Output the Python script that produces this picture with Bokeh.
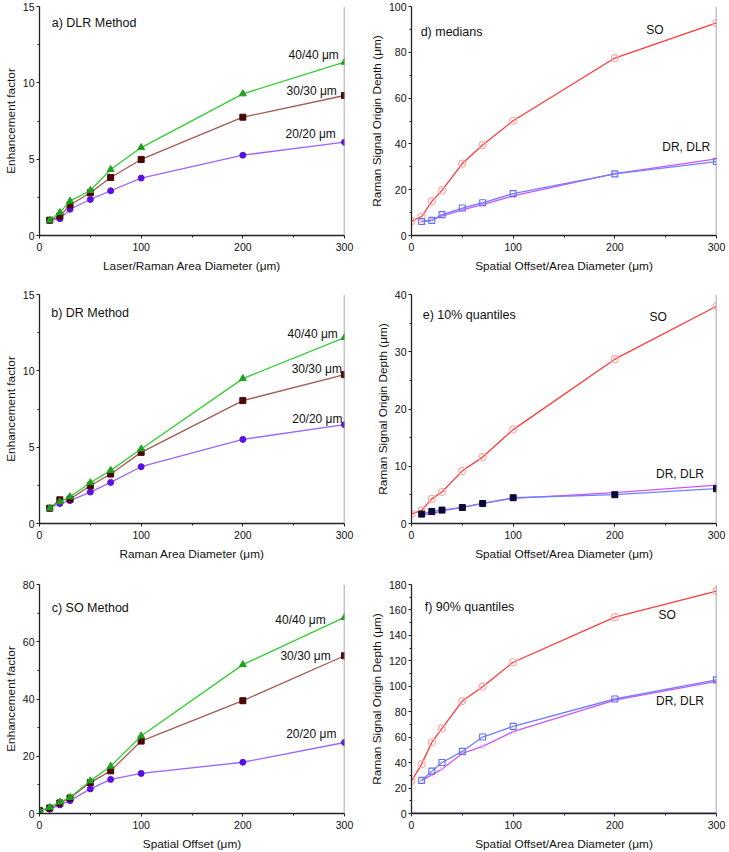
from bokeh.plotting import figure
from bokeh.models import FixedTicker, Label, Span, Range1d
from bokeh.layouts import column, row
from bokeh.embed import file_html
from bokeh.resources import INLINE

FONT = "Liberation Sans"

# ---------------- data ----------------
x_dia = [10, 20, 30, 50, 70, 100, 200, 300]
x_so = [0, 10, 20, 30, 50, 70, 100, 200, 300]

# a) DLR method enhancement factors
dlr_40 = [1.0, 1.5, 2.25, 2.95, 4.32, 5.76, 9.28, 11.35]
dlr_30 = [1.0, 1.27, 2.0, 2.8, 3.8, 4.98, 7.75, 9.17]
dlr_20 = [1.0, 1.1, 1.72, 2.36, 2.93, 3.76, 5.26, 6.11]

# b) DR method enhancement factors
dr_40 = [1.0, 1.42, 1.75, 2.67, 3.48, 4.88, 9.49, 12.18]
dr_30 = [1.0, 1.55, 1.6, 2.47, 3.24, 4.66, 8.05, 9.75]
dr_20 = [1.0, 1.31, 1.5, 2.06, 2.69, 3.72, 5.51, 6.47]

# c) SO method enhancement factors
so_40 = [1.0, 2.1, 4.0, 5.6, 11.4, 16.5, 27.1, 52.0, 68.5]
so_30 = [1.0, 1.9, 3.7, 5.4, 10.8, 14.9, 25.3, 39.4, 55.1]
so_20 = [1.0, 1.5, 3.0, 4.5, 8.6, 11.9, 14.0, 17.9, 24.8]

# d) medians of Raman signal origin depth
med_so = [6.3, 8.3, 14.9, 19.7, 31.4, 39.5, 50.1, 77.5, 92.8]
med_dr = [6.1, 6.6, 9.1, 12.0, 14.3, 18.3, 26.9, 32.3]
med_dlr = [6.1, 6.8, 8.5, 11.2, 13.5, 17.3, 27.0, 33.5]

# e) 10% quantiles
q10_so = [1.7, 2.3, 4.3, 5.5, 9.2, 11.6, 16.4, 28.7, 37.95]
q10_dr = [1.64, 2.1, 2.34, 2.8, 3.5, 4.5, 5.03, 6.08]
q10_dlr = [1.5, 1.7, 2.2, 2.8, 3.5, 4.4, 5.4, 6.7]

# f) 90% quantiles
q90_so = [25.7, 38.8, 55.9, 66.9, 88.4, 99.7, 118.9, 154.3, 174.8]
q90_dr = [26.0, 33.3, 40.1, 48.8, 60.1, 68.5, 90.0, 105.0]
q90_dlr = [26.0, 30.4, 34.9, 47.2, 52.7, 64.3, 89.2, 103.9]
q90_base_x = [0, 300]
q90_base_y = [0, 0]

x_ticks = [0, 100, 200, 300]
x_minor = [50, 150, 250]

GREEN_L, GREEN_M = "#33cc33", "#1f9f1f"
BROWN_L, BROWN_M = "#a35a55", "#4a0505"
PURP_L, PURP_M = "#9a66ff", "#5a10e0"
RED_L, RED_M = "#ff3a3a", "#ffaaaa"
BLUE_L, BLUE_M = "#7080ff", "#6070ee"
MAG_L, MAG_M = "#cc55ff", "#ee99ff"

TICK_FS = "10.5px"
AXIS_FS = "11.8px"
TITLE_FS = "12.5px"
ANN_FS = "12px"


def make_fig(ymax, yticks, yminor, xlabel, ylabel, bl, br, bt, bb, fw, fh):
    p = figure(frame_width=fw, frame_height=fh, output_backend="svg",
               toolbar_location=None, x_range=Range1d(0, 300),
               y_range=Range1d(0, ymax),
               min_border_left=bl, min_border_right=br,
               min_border_top=bt, min_border_bottom=bb)
    p.xgrid.visible = False
    p.ygrid.visible = False
    p.outline_line_color = None
    p.background_fill_color = "white"
    p.border_fill_color = "white"
    p.xaxis.ticker = FixedTicker(ticks=x_ticks, minor_ticks=x_minor)
    p.yaxis.ticker = FixedTicker(ticks=yticks, minor_ticks=yminor)
    p.xaxis.axis_label = xlabel
    p.yaxis.axis_label = ylabel
    for ax in (p.xaxis[0], p.yaxis[0]):
        ax.axis_line_color = "#222222"
        ax.axis_line_width = 1.3
        ax.major_tick_line_color = "#222222"
        ax.minor_tick_line_color = "#222222"
        ax.major_tick_in = 0
        ax.major_tick_out = 3
        ax.minor_tick_in = 0
        ax.minor_tick_out = 2
        ax.major_label_text_font = FONT
        ax.major_label_text_font_size = TICK_FS
        ax.major_label_text_color = "#111111"
        ax.axis_label_text_font = FONT
        ax.axis_label_text_font_size = AXIS_FS
        ax.axis_label_text_font_style = "normal"
        ax.axis_label_text_color = "#111111"
    p.xaxis.major_label_standoff = 4
    p.xaxis.axis_label_standoff = 5
    p.yaxis.major_label_standoff = 2
    p.yaxis.axis_label_standoff = 2
    p.add_layout(Span(location=300, dimension="height",
                      line_color="#8a8a8a", line_width=1.5))
    return p


def add_label(p, x, y, text, size=ANN_FS):
    p.add_layout(Label(x=x, y=y, text=text, text_font=FONT,
                       text_font_size=size, text_color="#111111",
                       text_baseline="middle", text_align="left"))


def left_panel(p, xs, s40, s30, s20):
    p.line(xs, s20, line_color=PURP_L, line_width=1.3)
    p.scatter(xs, s20, marker="circle", size=6, fill_color=PURP_M,
              line_color=PURP_M)
    p.line(xs, s30, line_color=BROWN_L, line_width=1.3)
    p.scatter(xs, s30, marker="square", size=6, fill_color=BROWN_M,
              line_color=BROWN_M)
    p.line(xs, s40, line_color=GREEN_L, line_width=1.3)
    p.scatter(xs, s40, marker="triangle", size=7, fill_color=GREEN_M,
              line_color=GREEN_M)


def right_panel(p, so, dr, dlr, dr_fill=None):
    p.line(x_so, so, line_color=RED_L, line_width=1.3)
    p.scatter(x_so, so, marker="circle", size=7, fill_color=None,
              line_color=RED_M, line_width=1.2)
    p.line(x_dia, dlr, line_color=MAG_L, line_width=1.3)
    p.scatter(x_dia, dlr, marker="x", size=6, line_color=MAG_M,
              line_width=1)
    p.line(x_dia, dr, line_color=BLUE_L, line_width=1.3)
    if dr_fill:
        p.scatter(x_dia, dr, marker="square", size=6, fill_color=dr_fill,
                  line_color=dr_fill)
    else:
        p.scatter(x_dia, dr, marker="square", size=6, fill_color=None,
                  line_color=BLUE_M, line_width=1.1)


FWL, FWR, FH = 305, 305, 229
LB, LR = 38, 22
RB, RR = 45, 14

# row 1
pa = make_fig(15, [0, 5, 10, 15], [2.5, 7.5, 12.5],
              "Laser/Raman Area Diameter (\u03bcm)", "Enhancement factor",
              LB, LR, 6, 53, FWL, FH)
left_panel(pa, x_dia, dlr_40, dlr_30, dlr_20)
add_label(pa, 12, 13.9, "a) DLR Method", TITLE_FS)
add_label(pa, 245, 11.83, "40/40 \u03bcm")
add_label(pa, 243, 9.45, "30/30 \u03bcm")
add_label(pa, 242, 6.66, "20/20 \u03bcm")

pd_ = make_fig(100, [0, 20, 40, 60, 80, 100], [10, 30, 50, 70, 90],
               "Spatial Offset/Area Diameter (\u03bcm)",
               "Raman Signal Origin Depth (\u03bcm)",
               RB, RR, 6, 53, FWR, FH)
right_panel(pd_, med_so, med_dr, med_dlr)
add_label(pd_, 9, 89, "d) medians", TITLE_FS)
add_label(pd_, 231, 89.9, "SO")
add_label(pd_, 246.6, 38.5, "DR, DLR")

# row 2
pb = make_fig(15, [0, 5, 10, 15], [2.5, 7.5, 12.5],
              "Raman Area Diameter (\u03bcm)", "Enhancement factor",
              LB, LR, 6, 55, FWL, FH)
left_panel(pb, x_dia, dr_40, dr_30, dr_20)
add_label(pb, 11.5, 13.78, "b) DR Method", TITLE_FS)
add_label(pb, 244, 12.44, "40/40 \u03bcm")
add_label(pb, 248, 10.1, "30/30 \u03bcm")
add_label(pb, 248.6, 6.87, "20/20 \u03bcm")

pe = make_fig(40, [0, 10, 20, 30, 40], [5, 15, 25, 35],
              "Spatial Offset/Area Diameter (\u03bcm)",
              "Raman Signal Origin Depth (\u03bcm)",
              RB, RR, 6, 55, FWR, FH)
right_panel(pe, q10_so, q10_dr, q10_dlr, dr_fill="#0a0a30")
add_label(pe, 11, 36.5, "e) 10% quantiles", TITLE_FS)
add_label(pe, 234, 36.1, "SO")
add_label(pe, 240.5, 8.7, "DR, DLR")

# row 3
pc = make_fig(80, [0, 20, 40, 60, 80], [10, 30, 50, 70],
              "Spatial Offset (\u03bcm)", "Enhancement factor",
              LB, LR, 6, 39, FWL, FH)
left_panel(pc, x_so, so_40, so_30, so_20)
add_label(pc, 12, 71.9, "c) SO Method", TITLE_FS)
add_label(pc, 232, 67.5, "40/40 \u03bcm")
add_label(pc, 237, 55.1, "30/30 \u03bcm")
add_label(pc, 242.6, 27.9, "20/20 \u03bcm")

pf = make_fig(180, list(range(0, 181, 20)), list(range(10, 180, 20)),
              "Spatial Offset/Area Diameter (\u03bcm)",
              "Raman Signal Origin Depth (\u03bcm)",
              RB, RR, 6, 39, FWR, FH)
pf.line(q90_base_x, q90_base_y, line_color="#6a6ad8", line_width=2)
right_panel(pf, q90_so, q90_dr, q90_dlr)
add_label(pf, 13, 162.4, "f) 90% quantiles", TITLE_FS)
add_label(pf, 243, 156.4, "SO")
add_label(pf, 240.5, 88.7, "DR, DLR")

layout = column(row(pa, pd_), row(pb, pe), row(pc, pf))

open("out.html", "w").write(file_html(layout, INLINE))
